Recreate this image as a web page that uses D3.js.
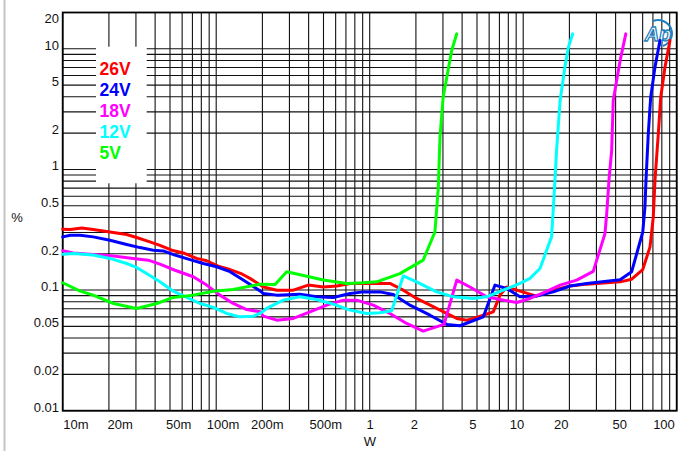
<!DOCTYPE html>
<html>
<head>
<meta charset="utf-8">
<script src="https://cdn.jsdelivr.net/npm/d3@7"></script>
<style>
  html, body { margin: 0; padding: 0; background: #fff; }
  svg { display: block; font-family: "Liberation Sans", Arial, sans-serif; }
</style>
</head>
<body>
<div id="chart"></div>
<script>
// THD+N (%) vs output power (W), one curve per supply voltage
const seriesNames = ["26V", "24V", "18V", "12V", "5V"];
const seriesColors = ["#ff0000", "#0000ff", "#ff00ff", "#00ffff", "#00ff00"];

const v26 = [[0.01,0.32],[0.0112,0.318],[0.0133,0.327],[0.0158,0.318],[0.0203,0.303],[0.0261,0.289],
  [0.0303,0.273],[0.037,0.251],[0.043,0.235],[0.0513,0.214],[0.0611,0.203],[0.0746,0.183],[0.0867,0.175],
  [0.103,0.158],[0.123,0.148],[0.147,0.136],[0.166,0.125],[0.203,0.106],[0.248,0.0998],[0.318,0.0998],
  [0.398,0.11],[0.499,0.106],[0.61,0.108],[0.745,0.1135],[1.355,0.1135],[1.655,0.0998],[2.02,0.0852],
  [2.73,0.0704],[3.69,0.0582],[4.29,0.0563],[4.73,0.0582],[5.5,0.0619],[6.38,0.066],[7.06,0.0908],
  [7.81,0.106],[9.53,0.0979],[12.2,0.0891],[15.7,0.0998],[20.2,0.108],[25.9,0.112],[42.8,0.117],
  [50.9,0.123],[60.1,0.148],[67,0.228],[70.4,0.404],[72.2,0.813],[75.9,1.98],[78.7,3.97],[83.9,7.05],[90.4,11.7]];

const v24 = [[0.01,0.276],[0.0112,0.285],[0.013,0.285],[0.0158,0.276],[0.0203,0.259],[0.0261,0.239],
  [0.0319,0.225],[0.0389,0.214],[0.0452,0.211],[0.0539,0.195],[0.0675,0.179],[0.0824,0.166],[0.1007,0.156],
  [0.123,0.142],[0.15,0.121],[0.193,0.0985],[0.203,0.0937],[0.248,0.0908],[0.351,0.0925],[0.451,0.0879],
  [0.579,0.0869],[0.745,0.0937],[0.908,0.0966],[1.167,0.0966],[1.425,0.092],[1.83,0.075],[2.47,0.0619],
  [3.18,0.0519],[3.87,0.0506],[5.5,0.06],[5.92,0.0774],[6.55,0.11],[7.81,0.103],[9.53,0.0879],[12.2,0.0891],
  [15.7,0.0966],[20.2,0.108],[25.9,0.1135],[42.8,0.122],[50.9,0.142],[60.1,0.303],[62.1,0.488],[63.1,0.813],
  [65.3,1.98],[67.7,3.97],[72.2,7.05],[77.8,11.7]];

const v18 = [[0.01,0.212],[0.0117,0.203],[0.0158,0.197],[0.0214,0.192],[0.0288,0.183],[0.0361,0.177],
  [0.043,0.164],[0.0539,0.146],[0.0709,0.129],[0.0867,0.11],[0.1059,0.0908],[0.129,0.0774],[0.158,0.069],
  [0.193,0.066],[0.203,0.0608],[0.248,0.0563],[0.318,0.0582],[0.408,0.066],[0.525,0.075],[0.673,0.0825],
  [0.822,0.0825],[1.055,0.075],[1.355,0.064],[1.74,0.0529],[2.23,0.0457],[3.05,0.052],[3.69,0.121],
  [4.5,0.106],[5.78,0.0879],[7.06,0.0836],[9.08,0.0789],[11.07,0.0852],[13.5,0.0948],[17.4,0.11],
  [22.3,0.121],[28.6,0.143],[34.1,0.294],[35,0.431],[36.2,0.813],[37.7,1.44],[38.6,3.73],[42.8,8.0],[46.6,13.3]];

const v12 = [[0.01,0.198],[0.0117,0.201],[0.0158,0.195],[0.0203,0.183],[0.0261,0.166],[0.0303,0.154],
  [0.0352,0.137],[0.043,0.117],[0.0525,0.0979],[0.0643,0.0869],[0.0784,0.0774],[0.0957,0.0718],[0.117,0.064],
  [0.143,0.06],[0.175,0.0608],[0.193,0.064],[0.213,0.0704],[0.274,0.0825],[0.351,0.0879],[0.451,0.0836],
  [0.579,0.0764],[0.745,0.0682],[0.955,0.064],[1.167,0.0648],[1.39,0.0673],[1.655,0.131],[2.02,0.117],
  [2.73,0.0966],[3.51,0.0879],[4.73,0.0852],[5.78,0.0879],[7.42,0.0998],[9.53,0.1135],[11.07,0.125],
  [12.86,0.151],[15.3,0.276],[15.7,0.47],[16.1,0.813],[16.5,1.44],[17.4,3.73],[18.7,7.05],[19.7,10.3],[21.0,13.3]];

const v5 = [[0.01,0.115],[0.013,0.0979],[0.0158,0.0908],[0.0214,0.0774],[0.0303,0.0704],[0.041,0.0774],
  [0.0525,0.0869],[0.0709,0.0908],[0.0957,0.0979],[0.129,0.101],[0.193,0.112],[0.242,0.111],[0.288,0.142],
  [0.389,0.13],[0.499,0.121],[0.708,0.1135],[0.908,0.115],[1.11,0.117],[1.574,0.137],[2.23,0.177],
  [2.66,0.303],[2.8,0.715],[2.87,1.85],[3.01,3.97],[3.42,9.68],[3.69,13.3]];

const seriesData = [v26, v24, v18, v12, v5];

const xTickValues = [0.01, 0.02, 0.05, 0.1, 0.2, 0.5, 1, 2, 5, 10, 20, 50, 100];
const xTickLabels = ["10m", "20m", "50m", "100m", "200m", "500m", "1", "2", "5", "10", "20", "50", "100"];
const yTickValues = [0.01, 0.02, 0.05, 0.1, 0.2, 0.5, 1, 2, 5, 10, 20];
const yTickLabels = ["0.01", "0.02", "0.05", "0.1", "0.2", "0.5", "1", "2", "5", "10", "20"];

const W = 685, H = 451;
const plot = { left: 62.7, right: 676.7, top: 12.5, bottom: 410.7 };

const svg = d3.select("#chart").append("svg")
    .attr("width", W).attr("height", H);

const xScale = d3.scaleLog().domain([0.01, 100]).range([plot.left, plot.right]);
const yScale = d3.scaleLog().domain([0.01, 20]).range([plot.bottom, plot.top]);
// the tick labels sit on a slightly narrower span than the grid
const xLabelScale = d3.scaleLog().domain([0.01, 100]).range([76, 664]);

// gray strip on the left edge
svg.append("line")
    .attr("x1", 4.5).attr("x2", 4.5).attr("y1", 0).attr("y2", H)
    .attr("stroke", "#c4c4c4").attr("stroke-width", 2);

// grid
const grid = svg.append("g").attr("stroke", "#111").attr("stroke-width", 1.1);
grid.selectAll("line.v")
    .data(xScale.ticks())
    .enter().append("line")
    .attr("class", "v")
    .attr("x1", d => xScale(d)).attr("x2", d => xScale(d))
    .attr("y1", plot.top).attr("y2", plot.bottom);
grid.selectAll("line.h")
    .data(yScale.ticks())
    .enter().append("line")
    .attr("class", "h")
    .attr("x1", plot.left).attr("x2", plot.right)
    .attr("y1", d => yScale(d)).attr("y2", d => yScale(d));

// frame
svg.append("rect")
    .attr("x", plot.left).attr("y", plot.top)
    .attr("width", plot.right - plot.left).attr("height", plot.bottom - plot.top)
    .attr("fill", "none").attr("stroke", "#000").attr("stroke-width", 1.8);

// y tick labels
svg.append("g").selectAll("text")
    .data(yTickValues)
    .enter().append("text")
    .attr("x", 59)
    .attr("y", d => Math.max(22.5, yScale(d) + 1))
    .attr("text-anchor", "end")
    .attr("font-size", 13)
    .attr("fill", "#111")
    .text((d, i) => yTickLabels[i]);

// x tick labels
svg.append("g").selectAll("text")
    .data(xTickValues)
    .enter().append("text")
    .attr("x", d => xLabelScale(d))
    .attr("y", 429)
    .attr("text-anchor", "middle")
    .attr("font-size", 13)
    .attr("fill", "#111")
    .text((d, i) => xTickLabels[i]);

// axis titles
svg.append("text").attr("x", 17).attr("y", 222).attr("text-anchor", "middle")
    .attr("font-size", 13).attr("fill", "#111").text("%");
svg.append("text").attr("x", 370).attr("y", 446).attr("text-anchor", "middle")
    .attr("font-size", 13).attr("fill", "#111").text("W");

// Ap logo
const logo = svg.append("g");
logo.append("path")
    .attr("d", "M653,21 A13,12.5 0 1,1 663,46")
    .attr("fill", "none").attr("stroke", "#1f7fc0").attr("stroke-width", 2);
logo.append("text")
    .attr("x", 658).attr("y", 41).attr("text-anchor", "middle")
    .attr("font-size", 20).attr("font-style", "italic").attr("font-weight", "bold")
    .attr("fill", "#fff").attr("stroke", "#1f7fc0").attr("stroke-width", 1.3)
    .text("Ap");

// legend box knocks out the grid
svg.append("rect")
    .attr("x", 96).attr("y", 46.7).attr("width", 50.7).attr("height", 136.6)
    .attr("fill", "#fff");
svg.append("g").selectAll("text")
    .data(seriesNames)
    .enter().append("text")
    .attr("x", 99.5)
    .attr("y", (d, i) => 74.5 + i * 21.2)
    .attr("font-size", 17.5).attr("font-weight", "bold")
    .attr("fill", (d, i) => seriesColors[i])
    .text(d => d);

// curves
const valueline = d3.line()
    .x(d => xScale(d[0]))
    .y(d => yScale(d[1]));

svg.append("g").selectAll("path")
    .data(seriesData)
    .enter().append("path")
    .attr("d", valueline)
    .attr("fill", "none")
    .attr("stroke", (d, i) => seriesColors[i])
    .attr("stroke-width", 3)
    .attr("stroke-linejoin", "round")
    .attr("stroke-linecap", "round");
</script>
</body>
</html>
